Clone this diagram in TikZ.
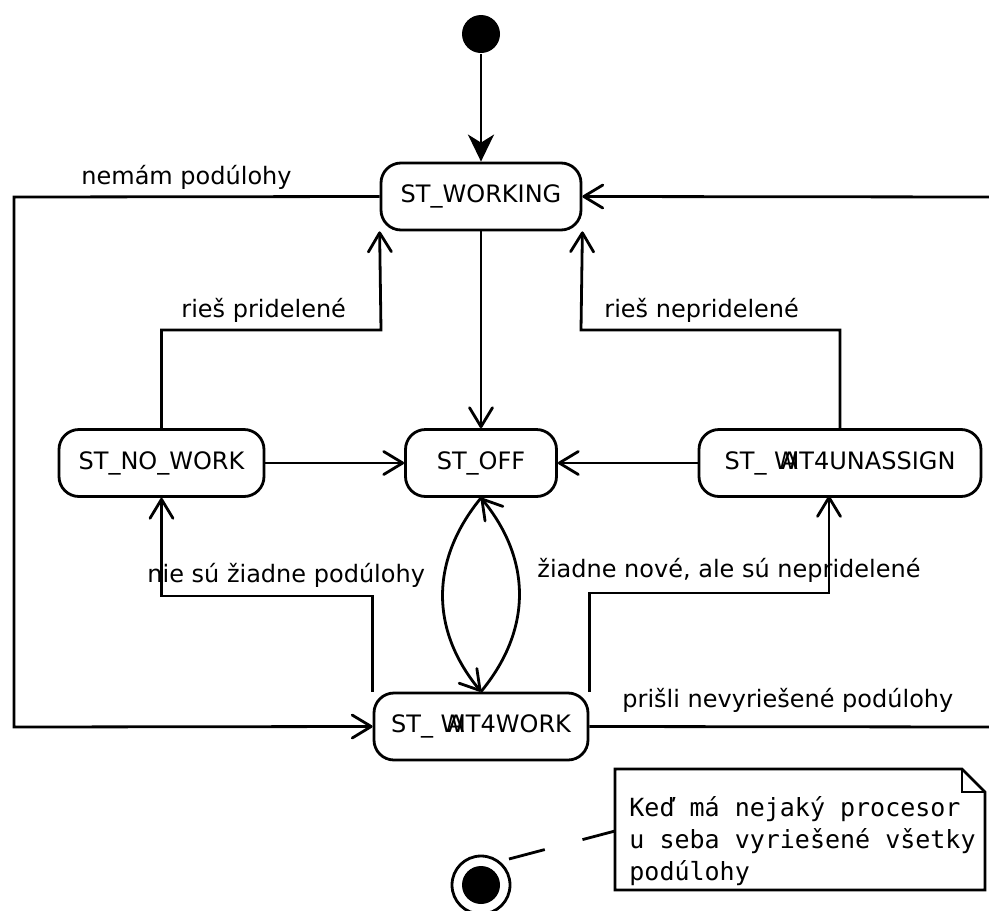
\documentclass[tikz,border=0pt]{standalone}
\usepackage{fontspec}
\setmainfont{DejaVu Sans}
\newfontfamily\notefont{DejaVu Sans Mono}
\usetikzlibrary{arrows.meta}

% state names whose W, A and I are set on top of one another
\newcommand{\wai}{\rlap{W}\rlap{\kern0.30em A}\kern0.76em I}

\begin{document}
\begin{tikzpicture}[x=1pt,y=-1pt,line width=2.8pt,
  state/.style={draw,rounded corners=20pt,minimum height=67pt,inner sep=0pt,
    font=\fontsize{24}{29}\selectfont},
  trans/.style={-{Straight Barb[length=19pt,width=23pt,round]}},
  lbl/.style={anchor=base west,inner sep=0pt,font=\fontsize{24}{29}\selectfont},
  notetxt/.style={anchor=base west,inner sep=0pt,font=\notefont\fontsize{25}{31}\selectfont}]

\useasboundingbox (0,0) rectangle (989,911);
\clip (0,0) rectangle (989,911);

% states
\node[state,minimum width=200pt] (work)     at (481,196.5) {ST\_WORKING};
\node[state,minimum width=151pt] (off)      at (481,463)   {ST\_OFF};
\node[state,minimum width=205pt] (nowork)   at (161.5,463) {ST\_NO\_WORK};
\node[state,minimum width=282pt] (unassign) at (840,463)   {ST\_ \wai T4UNASSIGN};
\node[state,minimum width=214pt] (wait)     at (481,726.5) {ST\_ \wai T4WORK};

% pseudo states
\node[circle,fill,minimum size=38pt,inner sep=0pt] (init) at (481,34) {};
\node[circle,draw,minimum size=58pt,inner sep=0pt] (final) at (481,885) {};
\node[circle,fill,minimum size=38pt,inner sep=0pt] (finalcore) at (final.center) {};

\draw[-{Stealth[length=27pt,width=26pt,inset=8pt]}] (init) -- (work);

% transitions
\draw[trans] (work) -- (off);
\draw[trans] (nowork) -- (off);
\draw[trans] (unassign) -- (off);

\draw[trans] (work.west) -- (14,197) -- (14,727) -- (wait.west);
\draw[trans] (wait.east) -- (1000,727) -- (1000,197) -- (work.east);

\draw[trans] (nowork.north) -- (161.5,330) -- (381,330) -- (work.south west);
\draw[trans] (unassign.north) -- (840,330) -- (581,330) -- (work.south east);

\draw[trans] (wait.north west) |- (161.5,596) -- (nowork.south);
\draw[trans] (wait.north east) |- (829,593) -- (829,496);

\draw[trans] (off.south) .. controls (430,560) and (430,630) .. (wait.north);
\draw[trans] (wait.north) .. controls (532,630) and (532,560) .. (off.south);

% transition labels
\node[lbl] (l1) at (80,184)  {nemám podúlohy};
\node[lbl] (l2) at (180,317) {rieš pridelené};
\node[lbl] (l3) at (603,317) {rieš nepridelené};
\node[lbl] (l4) at (146,582) {nie sú žiadne podúlohy};
\node[lbl] (l5) at (536,577) {žiadne nové, ale sú nepridelené};
\node[lbl] (l6) at (621,707) {prišli nevyriešené podúlohy};

% note with folded corner
\draw (615,769) -- (962,769) -- (985,792) -- (985,890) -- (615,890) -- cycle;
\draw[line width=1.5pt] (962,769) -- (962,792) -- (985,792);
\node[notetxt] (n1) at (628,816) {Keď má nejaký procesor};
\node[notetxt] (n2) at (628,848) {u seba vyriešené všetky};
\node[notetxt] (n3) at (628,880) {podúlohy};

\coordinate (finaltip) at (509,859);
\coordinate (noteleft) at (615,831);
\draw[dash pattern=on 37pt off 39pt] (finaltip) -- (noteleft);
\end{tikzpicture}
\end{document}
